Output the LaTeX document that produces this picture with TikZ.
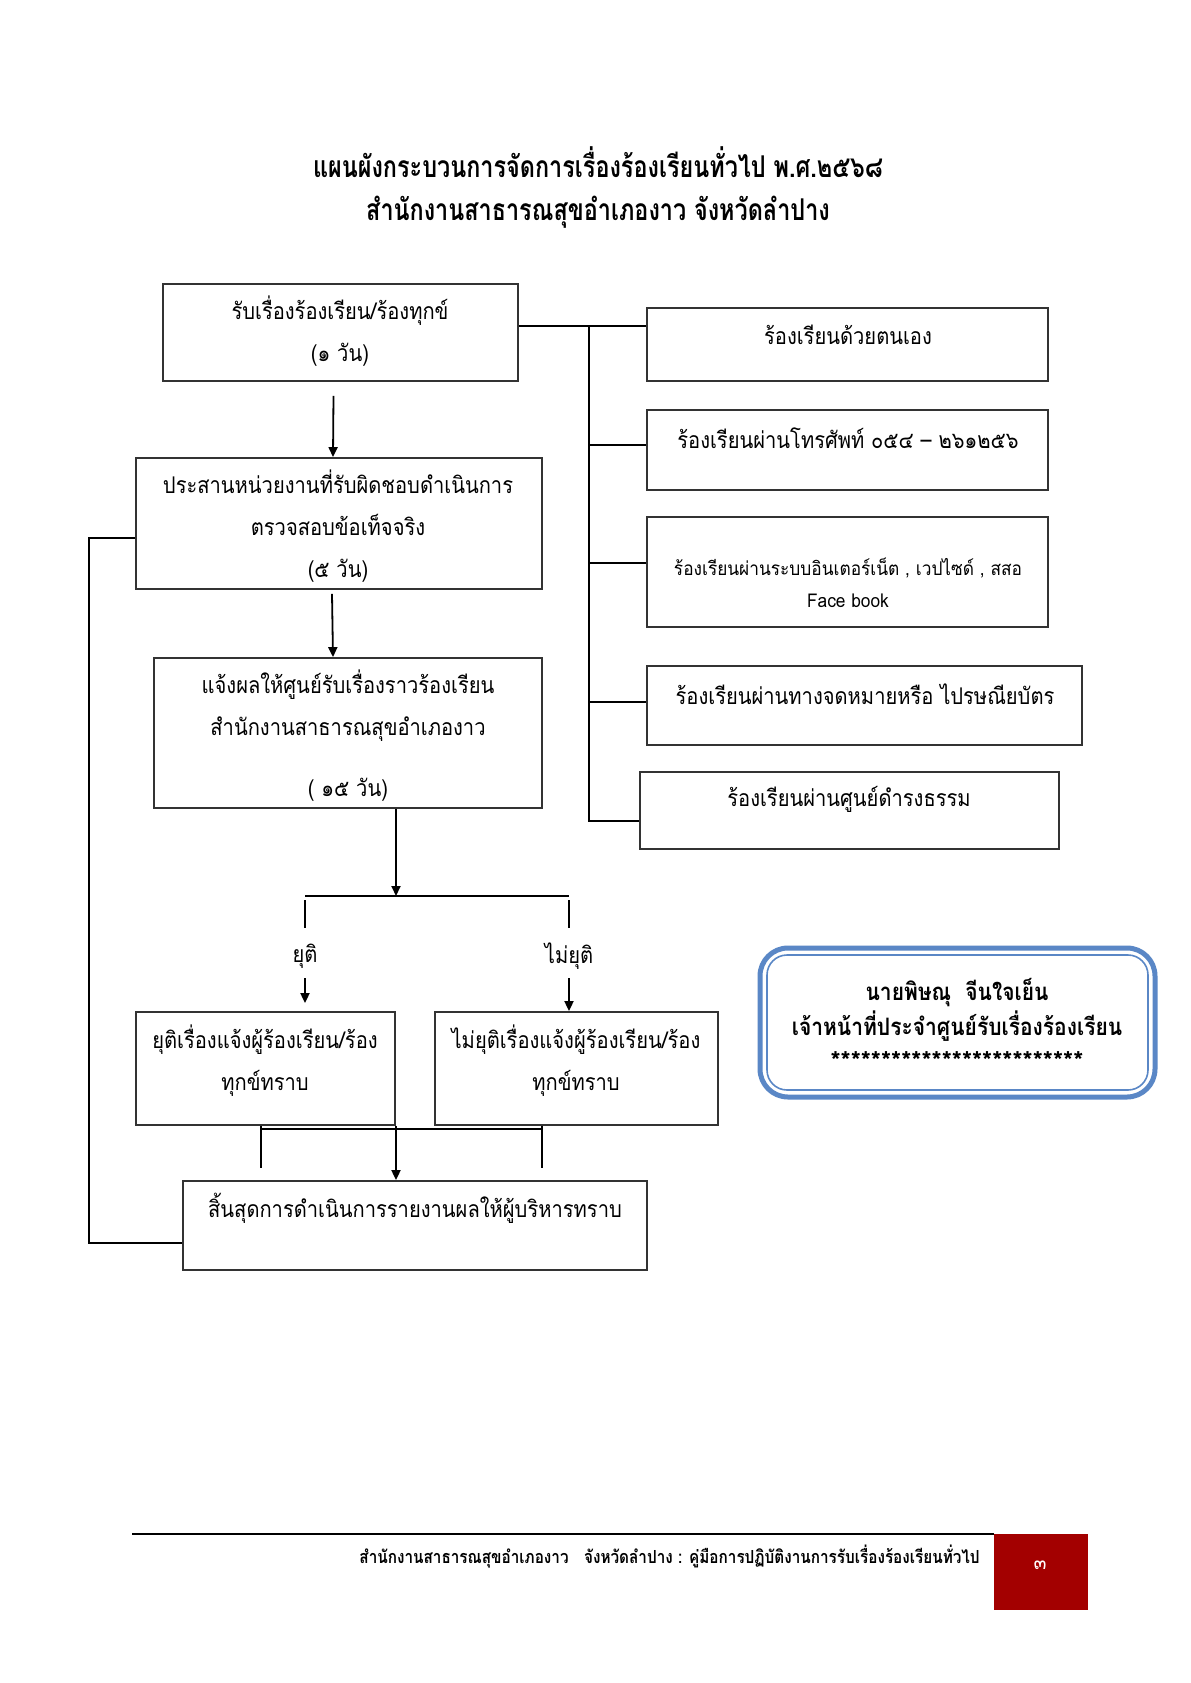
\documentclass[tikz,border=0pt]{standalone}
\usepackage{fontspec}
\setmainfont{Loma}[Script=Thai,FakeStretch=0.875]
\newfontfamily\ttlf{Loma}[Script=Thai,FakeStretch=0.78]
\newfontfamily\smallf{Loma}[Script=Thai,FakeStretch=0.91]
\newfontfamily\footf{Loma}[Script=Thai,FakeStretch=0.85]
\newfontfamily\plainf{Loma}[Script=Thai]
\usetikzlibrary{arrows.meta,fit}
\definecolor{boxc}{HTML}{333333}
\definecolor{sigblue}{HTML}{5A87C6}
\definecolor{pagered}{HTML}{A30000}
\begin{document}
\begin{tikzpicture}[x=0.5pt,y=-0.5pt,
  box/.style={draw=boxc,line width=0.9pt,inner sep=0pt,rectangle},
  txt/.style={align=center,inner sep=0pt,font=\fontsize{11.5}{21}\selectfont},
  ttl/.style={inner sep=0pt,font=\ttlf\bfseries\fontsize{15}{18}\selectfont},
  ln/.style={draw=black,line width=0.9pt},
  arr/.style={ln,-{Triangle[length=5pt,width=4.5pt]}}]
\useasboundingbox[fill=white] (0,0) rectangle (1190,1683);
% title
\node[ttl] (t1) at (598,162) {แผนผังกระบวนการจัดการเรื่องร้องเรียนทั่วไป พ.ศ.๒๕๖๘};
\node[ttl] (t2) at (598,212) {สำนักงานสาธารณสุขอำเภองาว จังหวัดลำปาง};
% left column boxes
\node[box,fit={(163,284)(518,381)}] (b1) {};
\node[box,fit={(136,458)(542,589)}] (b2) {};
\node[box,fit={(154,658)(542,808)}] (b3) {};
\node[box,fit={(136,1012)(395,1125)}] (b4) {};
\node[box,fit={(435,1012)(718,1125)}] (b5) {};
\node[box,fit={(183,1181)(647,1270)}] (b6) {};
\node[txt] (b1t) at (340,331) {รับเรื่องร้องเรียน/ร้องทุกข์\\(๑ วัน)};
\node[txt] (b2t) at (338,526) {ประสานหน่วยงานที่รับผิดชอบดำเนินการ\\ตรวจสอบข้อเท็จจริง\\(๕ วัน)};
\node[txt] (b3t) at (348,736) {แจ้งผลให้ศูนย์รับเรื่องราวร้องเรียน\\สำนักงานสาธารณสุขอำเภองาว\\[9.5pt]( ๑๕ วัน)};
\node[txt] (b4t) at (265,1061) {ยุติเรื่องแจ้งผู้ร้องเรียน/ร้อง\\ทุกข์ทราบ};
\node[txt] (b5t) at (576,1061) {ไม่ยุติเรื่องแจ้งผู้ร้องเรียน/ร้อง\\ทุกข์ทราบ};
\node[txt] (b6t) at (415,1208) {สิ้นสุดการดำเนินการรายงานผลให้ผู้บริหารทราบ};
% right column boxes
\node[box,fit={(647,308)(1048,381)}] (r1) {};
\node[box,fit={(647,410)(1048,490)}] (r2) {};
\node[box,fit={(647,517)(1048,627)}] (r3) {};
\node[box,fit={(647,666)(1082,745)}] (r4) {};
\node[box,fit={(640,772)(1059,849)}] (r5) {};
\node[txt] (r1t) at (848,335) {ร้องเรียนด้วยตนเอง};
\node[txt] (r2t) at (848,438) {ร้องเรียนผ่านโทรศัพท์ ๐๕๔ – ๒๖๑๒๕๖};
\node[txt,font=\smallf\fontsize{9.5}{16}\selectfont] (r3t) at (848,583) {ร้องเรียนผ่านระบบอินเตอร์เน็ต , เวปไซด์ , สสอ\\Face book};
\node[txt] (r4t) at (865,694) {ร้องเรียนผ่านทางจดหมายหรือ ไปรษณียบัตร};
\node[txt] (r5t) at (849,799) {ร้องเรียนผ่านศูนย์ดำรงธรรม};
% bus to right boxes
\coordinate (bt) at (589,326);
\coordinate (bb) at (589,821);
\coordinate (br2) at (589,445);
\coordinate (br3) at (589,563);
\coordinate (br4) at (589,702);
\draw[ln] (b1.east |- bt) -- (r1.west |- bt);
\draw[ln] (bt) -- (bb) -- (r5.west |- bb);
\draw[ln] (br2) -- (r2.west |- br2);
\draw[ln] (br3) -- (r3.west |- br3);
\draw[ln] (br4) -- (r4.west |- br4);
% main flow
\draw[arr] ([xshift=-3.5pt,yshift=-7pt]b1.south) -- ([xshift=-3pt]b2.north);
\draw[arr] ([xshift=-3.5pt,yshift=-2pt]b2.south) -- ([xshift=-7.5pt]b3.north);
\coordinate (split) at (396,896);
\coordinate (sl) at (305,896);
\coordinate (sr) at (569,896);
\draw[arr] (b3.south -| split) -- (split);
\draw[ln] (sl) -- (sr);
\coordinate (sla) at (305,900);
\coordinate (slb) at (305,928);
\coordinate (sra) at (569,900);
\coordinate (srb) at (569,928);
\draw[ln] (sla) -- (slb);
\draw[ln] (sra) -- (srb);
\node[txt] (ly) at (305,956) {ยุติ};
\node[txt] (ln) at (569,956) {ไม่ยุติ};
\coordinate (ya) at (305,978);
\coordinate (na) at (569,978);
\draw[arr] (ya) -- ([yshift=4pt]b4.north -| ya);
\draw[arr] (na) -- (b5.north -| na);
% merge
\coordinate (ml) at (261,1129);
\coordinate (mr) at (542,1129);
\coordinate (mlb) at (261,1168);
\coordinate (mrb) at (542,1168);
\draw[ln] (ml) -- (mr);
\draw[ln] (b4.south -| ml) -- (mlb);
\draw[ln] (b5.south -| mr) -- (mrb);
\draw[arr] (b4.south -| split) -- (b6.north -| split);
% loop
\coordinate (lp1) at (89,538);
\coordinate (lp2) at (89,1243);
\draw[ln] (b2.west |- lp1) -- (lp1) -- (lp2) -- (b6.west |- lp2);
% signature box
\node[draw=sigblue,line width=2.5pt,rounded corners=14pt,inner sep=0pt,fit={(760,948)(1155,1097)}] (sig) {};
\node[draw=sigblue,line width=0.8pt,rounded corners=10pt,inner sep=0pt,fit={(767,955)(1148,1090)}] (sigin) {};
\node[txt,font=\bfseries\fontsize{12}{17.5}\selectfont] (sigt) at (957,1024) {นายพิษณุ~~จีนใจเย็น\\เจ้าหน้าที่ประจำศูนย์รับเรื่องร้องเรียน\\{\plainf\bfseries\fontsize{13}{17.5}\selectfont *************************}};
% footer
\coordinate (fl) at (132,1534);
\coordinate (fr) at (994,1534);
\draw[draw=black,line width=0.8pt] (fl) -- (fr);
\node[fill=pagered,inner sep=0pt,fit={(994,1534)(1088,1610)}] (pg) {};
\node[inner sep=0pt,text=white,font=\plainf\fontsize{9.5}{11}\selectfont] (pgn) at (1040,1565) {๓};
\node[anchor=east,inner sep=0pt,font=\footf\bfseries\fontsize{9}{11}\selectfont] (ft) at (980,1557) {สำนักงานสาธารณสุขอำเภองาว~~~จังหวัดลำปาง : คู่มือการปฏิบัติงานการรับเรื่องร้องเรียนทั่วไป};
\end{tikzpicture}
\end{document}
